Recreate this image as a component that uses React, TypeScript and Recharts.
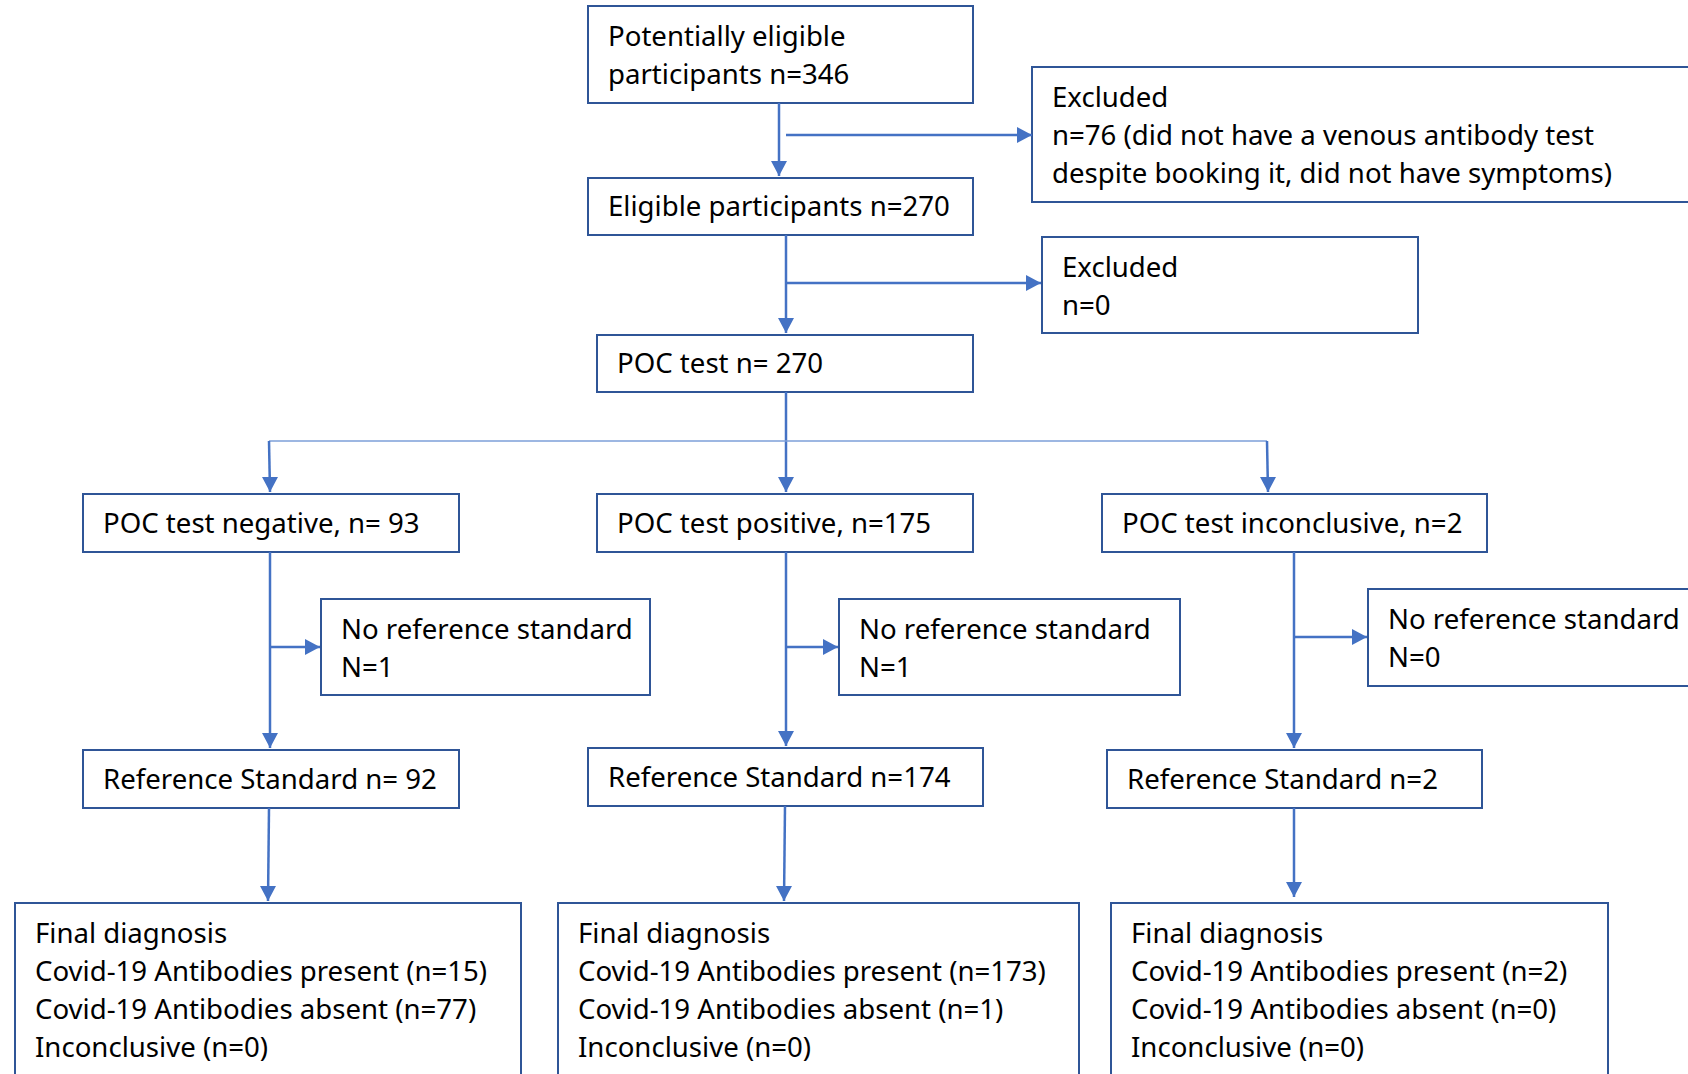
import React from 'react';
import {
  ComposedChart,
  XAxis,
  YAxis,
  ReferenceArea,
  ReferenceLine,
  Scatter,
} from 'recharts';

// canvas size in data units (1 unit = 1 px of the original figure)
const W = 1688;
const H = 1074;

const LINE = '#4472C4';
const BOX = '#2F5597';
const FONT = '"Noto Sans", "Open Sans", sans-serif';

type Box = { id: string; x0: number; x1: number; y0: number; y1: number; lines: string[] };

const topBoxes: Box[] = [
  { id: 'potential', x0: 588, x1: 973, y0: 6, y1: 103, lines: ['Potentially eligible', 'participants n=346'] },
  { id: 'excl1', x0: 1032, x1: 1700, y0: 67, y1: 202, lines: ['Excluded', 'n=76 (did not have a venous antibody test', 'despite booking it, did not have symptoms)'] },
  { id: 'eligible', x0: 588, x1: 973, y0: 178, y1: 235, lines: ['Eligible participants n=270'] },
  { id: 'excl2', x0: 1042, x1: 1418, y0: 237, y1: 333, lines: ['Excluded', 'n=0'] },
  { id: 'poc', x0: 597, x1: 973, y0: 335, y1: 392, lines: ['POC test n= 270'] },
];

const resultBoxes: Box[] = [
  { id: 'neg', x0: 83, x1: 459, y0: 494, y1: 552, lines: ['POC test negative, n= 93'] },
  { id: 'pos', x0: 597, x1: 973, y0: 494, y1: 552, lines: ['POC test positive, n=175'] },
  { id: 'inc', x0: 1102, x1: 1487, y0: 494, y1: 552, lines: ['POC test inconclusive, n=2'] },
];

const noRefBoxes: Box[] = [
  { id: 'noref1', x0: 321, x1: 650, y0: 599, y1: 695, lines: ['No reference standard', 'N=1'] },
  { id: 'noref2', x0: 839, x1: 1180, y0: 599, y1: 695, lines: ['No reference standard', 'N=1'] },
  { id: 'noref3', x0: 1368, x1: 1700, y0: 589, y1: 686, lines: ['No reference standard', 'N=0'] },
];

const refBoxes: Box[] = [
  { id: 'ref1', x0: 83, x1: 459, y0: 750, y1: 808, lines: ['Reference Standard n= 92'] },
  { id: 'ref2', x0: 588, x1: 983, y0: 748, y1: 806, lines: ['Reference Standard n=174'] },
  { id: 'ref3', x0: 1107, x1: 1482, y0: 750, y1: 808, lines: ['Reference Standard n=2'] },
];

const finalBoxes: Box[] = [
  { id: 'fin1', x0: 15, x1: 521, y0: 903, y1: 1100, lines: ['Final diagnosis', 'Covid-19 Antibodies present (n=15)', 'Covid-19 Antibodies absent (n=77)', 'Inconclusive (n=0)'] },
  { id: 'fin2', x0: 558, x1: 1079, y0: 903, y1: 1100, lines: ['Final diagnosis', 'Covid-19 Antibodies present (n=173)', 'Covid-19 Antibodies absent (n=1)', 'Inconclusive (n=0)'] },
  { id: 'fin3', x0: 1111, x1: 1608, y0: 903, y1: 1100, lines: ['Final diagnosis', 'Covid-19 Antibodies present (n=2)', 'Covid-19 Antibodies absent (n=0)', 'Inconclusive (n=0)'] },
];

const allBoxes = [...topBoxes, ...resultBoxes, ...noRefBoxes, ...refBoxes, ...finalBoxes];

// connectors: [from, to]; arrow = arrowhead at the "to" end
type Seg = { a: [number, number]; b: [number, number]; arrow?: 'down' | 'right'; thin?: boolean };

const connectors: Seg[] = [
  { a: [779, 103], b: [779, 176], arrow: 'down' },
  { a: [786, 135], b: [1032, 135], arrow: 'right' },
  { a: [786, 235], b: [786, 333], arrow: 'down' },
  { a: [786, 283], b: [1041, 283], arrow: 'right' },
  { a: [786, 392], b: [786, 492], arrow: 'down' },
  { a: [269, 441], b: [1267, 441], thin: true },
  { a: [269, 441], b: [270, 492], arrow: 'down' },
  { a: [1267, 441], b: [1268, 492], arrow: 'down' },
  { a: [270, 552], b: [270, 748], arrow: 'down' },
  { a: [270, 647], b: [320, 647], arrow: 'right' },
  { a: [786, 552], b: [786, 746], arrow: 'down' },
  { a: [786, 647], b: [838, 647], arrow: 'right' },
  { a: [1294, 552], b: [1294, 748], arrow: 'down' },
  { a: [1294, 637], b: [1367, 637], arrow: 'right' },
  { a: [269, 808], b: [268, 901], arrow: 'down' },
  { a: [785, 806], b: [784, 901], arrow: 'down' },
  { a: [1294, 808], b: [1294, 897], arrow: 'down' },
];

const arrowTips = connectors
  .filter((c) => c.arrow)
  .map((c) => ({ x: c.b[0], y: c.b[1], dir: c.arrow }));

const BoxText = ({ viewBox, lines }: any) => {
  if (!viewBox) return null;
  const { x, y, height } = viewBox;
  const single = lines.length === 1;
  return (
    <text fontFamily={FONT} fontSize={27.6} fill="#000">
      {lines.map((t: string, i: number) => (
        <tspan
          key={i}
          x={x + 20}
          y={single ? y + height / 2 - 1.5 : y + 28.5 + i * 38.3}
          dominantBaseline="central"
        >
          {t}
        </tspan>
      ))}
    </text>
  );
};

const ArrowHead = (props: any) => {
  const { cx, cy, payload } = props;
  if (cx == null || cy == null) return null;
  const len = 15;
  const half = 8;
  const pts =
    payload.dir === 'right'
      ? `${cx},${cy} ${cx - len},${cy - half} ${cx - len},${cy + half}`
      : `${cx},${cy} ${cx - half},${cy - len} ${cx + half},${cy - len}`;
  return <polygon points={pts} fill={LINE} />;
};

const App = () => {
  return (
    <div style={{ position: 'absolute', left: 0, top: 0, background: '#fff' }}>
      <ComposedChart width={W} height={H} margin={{ top: 0, right: 0, bottom: 0, left: 0 }}>
        <XAxis type="number" dataKey="x" domain={[0, W]} hide allowDataOverflow />
        <YAxis type="number" dataKey="y" domain={[0, H]} reversed hide allowDataOverflow />

        {connectors.map((c, i) => (
          <ReferenceLine
            key={`c${i}`}
            segment={[{ x: c.a[0], y: c.a[1] }, { x: c.b[0], y: c.b[1] }]}
            stroke={c.thin ? '#7C9FD9' : LINE}
            strokeWidth={c.thin ? 1.5 : 2.5}
            ifOverflow="visible"
          />
        ))}

        {allBoxes.map((b) => (
          <ReferenceArea
            key={b.id}
            x1={b.x0}
            x2={b.x1}
            y1={b.y0}
            y2={b.y1}
            fill="#fff"
            fillOpacity={1}
            stroke={BOX}
            strokeWidth={2}
            ifOverflow="visible"
            label={(p: any) => <BoxText viewBox={p.viewBox} lines={b.lines} />}
          />
        ))}

        <Scatter data={arrowTips} dataKey="y" shape={<ArrowHead />} isAnimationActive={false} />
      </ComposedChart>
    </div>
  );
};

export default App;
